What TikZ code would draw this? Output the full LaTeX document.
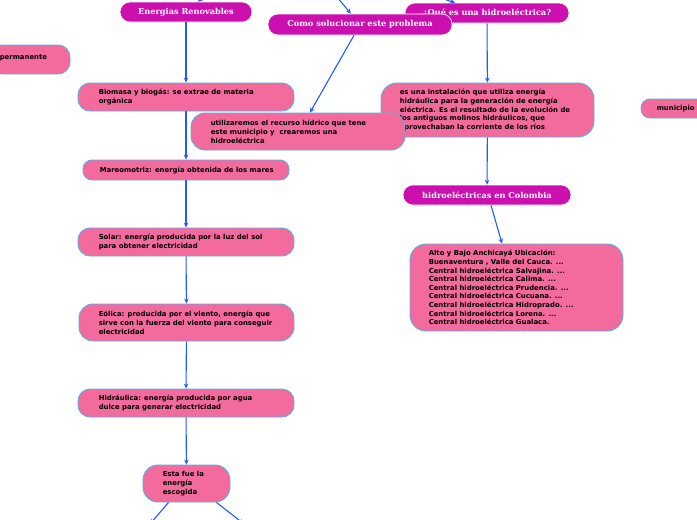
\documentclass[tikz,border=0pt]{standalone}
\usepackage{fontspec}
\setmainfont{DejaVu Sans}
\newfontfamily\titlefont{DejaVu Serif}
\newfontfamily\bodyfont{DejaVu Sans}
\usetikzlibrary{arrows.meta}
\definecolor{pinkc}{HTML}{F36B9C}
\definecolor{magc}{HTML}{CC0FAF}
\definecolor{bordc}{HTML}{5AAEE6}
\definecolor{arrc}{HTML}{1F5BFF}
\tikzset{
  pbox/.style={draw=bordc, line width=0.9pt, fill=pinkc, rounded corners=12pt, inner sep=0pt},
  mbox/.style={draw=white, line width=0.6pt, fill=magc, rounded corners=10pt, inner sep=0pt,
     text=white, font=\titlefont\bfseries\fontsize{8.2}{9}\selectfont, minimum height=20pt},
  ptext/.style={anchor=west, inner sep=0pt, align=left, text=black,
     font=\bodyfont\bfseries\fontsize{6.9}{8.8}\selectfont},
  conn/.style={draw=arrc, line width=1.1pt, -{Stealth[length=5pt,width=4.5pt]}}
}
\begin{document}
\begin{tikzpicture}[x=1pt,y=-1pt]
\useasboundingbox (0,0) rectangle (697,520);
\clip (0,0) rectangle (697,520);
\fill[white] (0,0) rectangle (697,520);

% left column
\node[pbox, minimum width=80pt, minimum height=29pt] (perm) at (30,59.5) {};
\node[ptext] (permt) at ([xshift=10pt,yshift=2pt]perm.west) {permanente};

\node[pbox, minimum width=216pt, minimum height=28pt] (bio) at (186,97) {};
\node[ptext] (biot) at ([xshift=21pt]bio.west) {Biomasa y biogás: se extrae de materia\\orgánica};

\node[pbox, minimum width=206pt, minimum height=20pt, rounded corners=9pt] (mar) at (186,170) {};
\node[ptext] (mart) at ([xshift=17pt]mar.west) {Mareomotriz: energía obtenida de los mares};

\node[pbox, minimum width=216pt, minimum height=28pt] (sol) at (186,242) {};
\node[ptext] (solt) at ([xshift=21pt]sol.west) {Solar: energía producida por la luz del sol\\para obtener electricidad};

\node[pbox, minimum width=215pt, minimum height=37pt, rounded corners=14pt] (eol) at (186.5,322.5) {};
\node[ptext] (eolt) at ([xshift=20pt]eol.west) {Eólica: producida por el viento, energía que\\sirve con la fuerza del viento para conseguir\\electricidad};

\node[pbox, minimum width=216pt, minimum height=28pt] (hid) at (186,403) {};
\node[ptext] (hidt) at ([xshift=21pt]hid.west) {Hidráulica: energía producida por agua\\dulce para generar electricidad};

\node[pbox, minimum width=87pt, minimum height=37pt, rounded corners=15pt] (esta) at (186.5,483.5) {};
\node[ptext] (estat) at ([xshift=20pt]esta.west) {Esta fue la\\energía\\escogida};

% right column
\node[pbox, minimum width=213pt, minimum height=54pt, rounded corners=16pt] (inst) at (487.5,110) {};
\node[ptext] (instt) at ([xshift=19pt]inst.west) {es una instalación que utiliza energía\\hidráulica para la generación de energía\\eléctrica. Es el resultado de la evolución de\\los antiguos molinos hidráulicos, que\\aprovechaban la corriente de los ríos};

\node[pbox, minimum width=214pt, minimum height=37pt, rounded corners=14pt] (util) at (298,131.5) {};
\node[ptext] (utilt) at ([xshift=20pt]util.west) {utilizaremos el recurso hídrico que tene\\este municipio y \ crearemos una\\hidroeléctrica};

\node[pbox, minimum width=80pt, minimum height=19pt, rounded corners=9pt] (mun) at (681,108.5) {};
\node[ptext] (munt) at ([xshift=16pt]mun.west) {municipio};

\node[pbox, minimum width=213pt, minimum height=87pt, rounded corners=16pt] (list) at (516.5,287.5) {};
\node[ptext, font=\bodyfont\bfseries\fontsize{6.9}{8.6}\selectfont] (listt) at ([xshift=19pt]list.west) {Alto y Bajo Anchicayá Ubicación:\\Buenaventura , Valle del Cauca. ...\\Central hidroeléctrica Salvajina. ...\\Central hidroeléctrica Calima. ...\\Central hidroeléctrica Prudencia. ...\\Central hidroeléctrica Cucuana. ...\\Central hidroeléctrica Hidroprado. ...\\Central hidroeléctrica Lorena. ...\\Central hidroeléctrica Gualaca.};

% title boxes
\node[mbox, minimum width=132pt] (ener) at (186,12) {Energias Renovables};
\node[mbox, minimum width=164pt] (que) at (487,13) {¿Qué es una hidroeléctrica?};
\node[mbox, minimum width=184pt, minimum height=21pt] (como) at (360,24.5) {Como solucionar este problema};
\node[mbox, minimum width=168pt] (hidc) at (487,195) {hidroeléctricas en Colombia};

% incoming / outgoing off-frame connectors
\coordinate (in1) at (214,-12);
\coordinate (in2) at (326,-16);
\coordinate (in3) at (400,-15);
\coordinate (out1) at (150,524);
\coordinate (out2) at (244,524);

\draw[conn] (in1) -- (ener);
\draw[conn] (in2) -- (como);
\draw[conn] (in3) -- (que);

\draw[conn] (ener) -- (bio);
\draw[conn] (bio) -- (mar);
\draw[conn] (mar) -- (sol);
\draw[conn] (sol) -- (eol);
\draw[conn] (eol) -- (hid);
\draw[conn] (hid) -- (esta);
\draw[conn] ([xshift=-18pt]esta.south) -- (out1);
\draw[conn] ([xshift=30pt]esta.south) -- (out2);

\draw[conn] ([xshift=-6pt]como.south) -- ([xshift=12pt]util.north);
\draw[conn] (que) -- (inst);
\draw[conn] (inst) -- (hidc);
\draw[conn] ([xshift=4pt]hidc.south) -- ([xshift=-14.5pt]list.north);
\end{tikzpicture}
\end{document}
